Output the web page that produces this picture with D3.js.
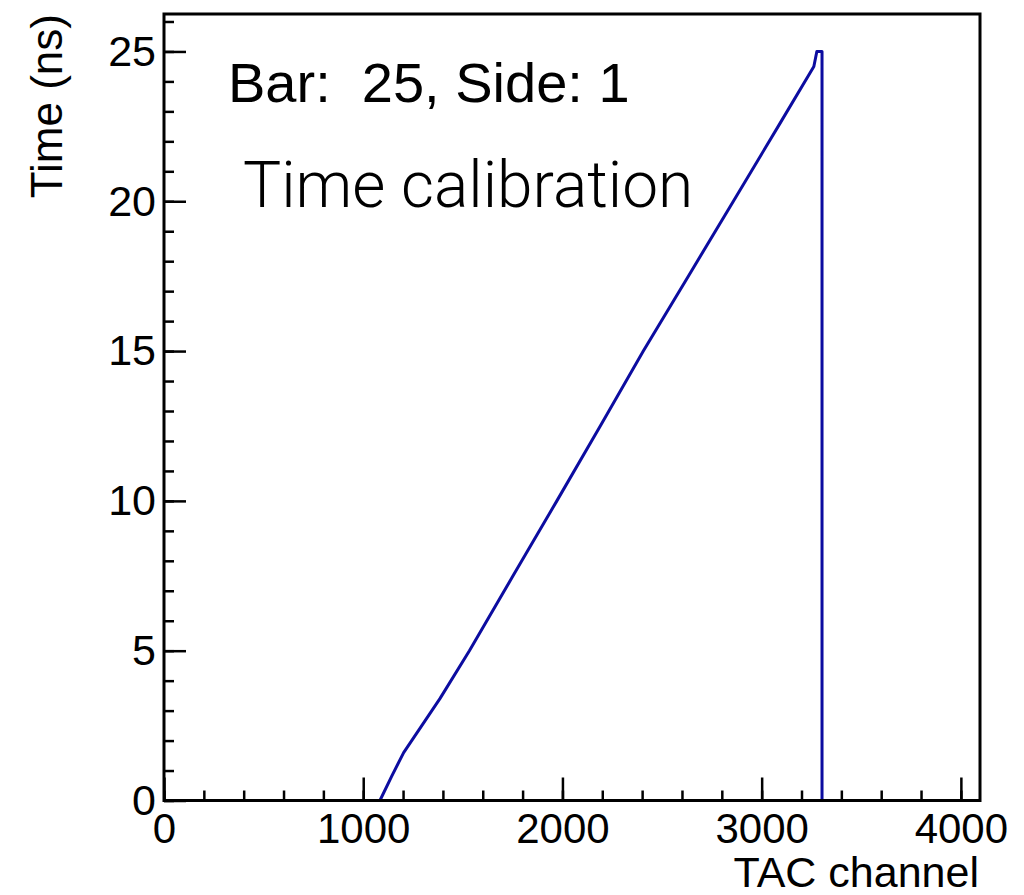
<!DOCTYPE html>
<html>
<head>
<meta charset="utf-8">
<script src="https://cdn.jsdelivr.net/npm/d3@7"></script>
<style>
  html, body { margin: 0; padding: 0; background: #fff; }
  svg text { font-family: "Liberation Sans", Arial, Helvetica, sans-serif; fill: #000; white-space: pre; }
</style>
</head>
<body>
<svg id="chart"></svg>
<script>
// calibration curve: time (ns) vs TAC channel
const timeNs     = [0,    0.8,  1.6,  3.4,  5,    7.5,  10,   12.5, 15,   17.5, 20,   22.6, 24.5, 25,   25,   0];
const tacChannel = [1084, 1142, 1203, 1385, 1533, 1752, 1972, 2190, 2406, 2632, 2858, 3092, 3262, 3277, 3303, 3303];

// axis ticks
const xMajorTicks = [0, 1000, 2000, 3000, 4000];
const xMinorTicks = d3.range(0, 4097, 200);
const yMajorTicks = [0, 5, 10, 15, 20, 25];
const yMinorTicks = d3.range(0, 27, 1);

const labelText = "Bar:  25, Side: 1";
const titleText = "Time calibration";

const width = 1024, height = 895;
const frame = { left: 164, right: 980, top: 14, bottom: 800.5 };

const svg = d3.select("#chart")
    .attr("width", width)
    .attr("height", height);

const x = d3.scaleLinear().domain([0, 4096]).range([frame.left, frame.right]);
const y = d3.scaleLinear().domain([0, 26.25]).range([frame.bottom, frame.top]);

// curve
const pts = timeNs.map((t, i) => [tacChannel[i], t]);
svg.append("path")
    .datum(pts)
    .attr("fill", "none")
    .attr("stroke", "#0c0ca0")
    .attr("stroke-width", 3)
    .attr("stroke-linejoin", "round")
    .attr("d", d3.line().x(d => x(d[0])).y(d => y(d[1])));

// x axis: minor then major ticks, inward
svg.append("g")
    .attr("transform", `translate(0,${frame.bottom})`)
    .call(d3.axisBottom(x).tickValues(xMinorTicks).tickSize(-10).tickFormat(""))
    .call(g => g.select(".domain").remove())
    .call(g => g.selectAll("line").attr("stroke-width", 2.5));

svg.append("g")
    .attr("transform", `translate(0,${frame.bottom})`)
    .call(d3.axisBottom(x).tickValues(xMajorTicks).tickSize(-23).tickPadding(13).tickFormat(d3.format("d")))
    .call(g => g.select(".domain").remove())
    .call(g => g.selectAll("line").attr("stroke-width", 2.5))
    .call(g => g.selectAll("text")
        .attr("font-size", 42)
        .attr("font-family", "Liberation Sans, Arial, sans-serif")
        .attr("dy", "0.71em"));

// y axis
svg.append("g")
    .attr("transform", `translate(${frame.left},0)`)
    .call(d3.axisLeft(y).tickValues(yMinorTicks).tickSize(-10).tickFormat(""))
    .call(g => g.select(".domain").remove())
    .call(g => g.selectAll("line").attr("stroke-width", 2.5));

svg.append("g")
    .attr("transform", `translate(${frame.left},0)`)
    .call(d3.axisLeft(y).tickValues(yMajorTicks).tickSize(-22).tickPadding(8).tickFormat(d3.format("d")))
    .call(g => g.select(".domain").remove())
    .call(g => g.selectAll("line").attr("stroke-width", 2.5))
    .call(g => g.selectAll("text")
        .attr("font-size", 43)
        .attr("font-family", "Liberation Sans, Arial, sans-serif"));

// frame
svg.append("rect")
    .attr("x", frame.left)
    .attr("y", frame.top)
    .attr("width", frame.right - frame.left)
    .attr("height", frame.bottom - frame.top)
    .attr("fill", "none")
    .attr("stroke", "#000")
    .attr("stroke-width", 3);

// axis titles
svg.append("text")
    .attr("x", frame.right - 1)
    .attr("y", 887)
    .attr("text-anchor", "end")
    .attr("font-size", 43)
    .text("TAC channel");

svg.append("text")
    .attr("transform", `translate(62,${frame.top}) rotate(-90)`)
    .attr("text-anchor", "end")
    .attr("font-size", 44)
    .text("Time (ns)");

// labels inside the frame
svg.append("text")
    .attr("x", 228)
    .attr("y", 102)
    .attr("font-size", 56)
    .text(labelText);

svg.append("text")
    .attr("x", 243)
    .attr("y", 207)
    .attr("font-size", 64)
    .attr("font-weight", 300)
    .style("font-family", "Roboto, 'Open Sans', sans-serif")
    .text(titleText);
</script>
</body>
</html>
